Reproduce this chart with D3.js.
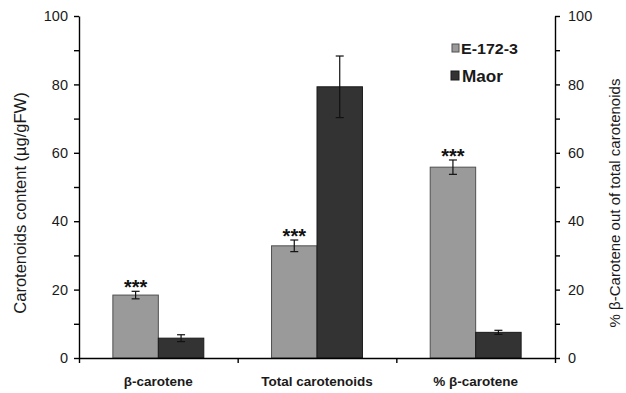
<!DOCTYPE html>
<html>
<head>
<meta charset="utf-8">
<script src="https://cdn.jsdelivr.net/npm/d3@7"></script>
<style>
  html, body { margin: 0; padding: 0; background: #fff; }
  svg { display: block; font-family: Arial, "Liberation Sans", sans-serif; }
</style>
</head>
<body>
<svg id="chart" width="626" height="393"></svg>
<script>
// Carotenoid content of the two lines, with standard errors
const categories = ["β-carotene", "Total carotenoids", "% β-carotene"];
const seriesNames = ["E-172-3", "Maor"];
const e172Values = [18.4, 32.8, 55.8];
const e172Errors = [1.1, 1.7, 2.1];
const maorValues = [5.8, 79.3, 7.5];
const maorErrors = [1.0, 9.0, 0.6];
const e172Marks = ["***", "***", "***"];
const yTicks = [0, 20, 40, 60, 80, 100];
const yMinorTicks = [10, 30, 50, 70, 90];

const colors = { "E-172-3": "#9a9a9a", "Maor": "#333333" };
const strokes = { "E-172-3": "#505050", "Maor": "#1a1a1a" };

const svg = d3.select("#chart");
const plotLeft = 79, plotRight = 555, plotTop = 16, plotBottom = 358;

const x0 = d3.scaleBand().domain(categories).range([plotLeft, plotRight]).paddingInner(0).paddingOuter(0);
const x1 = d3.scaleBand().domain(seriesNames).range([0, x0.bandwidth()]).paddingInner(0).paddingOuter(0.745);
const yLeft = d3.scaleLinear().domain([0, 100]).range([plotBottom, plotTop]);
const yRight = d3.scaleLinear().domain([0, 100]).range([plotBottom, plotTop]);
// the percentage group is read on the right-hand axis
const yFor = i => (i === 2 ? yRight : yLeft);

const rows = categories.map((c, i) => ({
  cat: c, i,
  bars: [
    { s: "E-172-3", v: e172Values[i], e: e172Errors[i], mark: e172Marks[i] },
    { s: "Maor", v: maorValues[i], e: maorErrors[i], mark: "" }
  ]
}));

// bars
const groups = svg.append("g").selectAll("g").data(rows).join("g")
  .attr("transform", d => `translate(${x0(d.cat)},0)`);

groups.selectAll("rect").data(d => d.bars.map(b => ({ ...b, i: d.i }))).join("rect")
  .attr("x", d => x1(d.s))
  .attr("y", d => yFor(d.i)(d.v))
  .attr("width", x1.bandwidth())
  .attr("height", d => yFor(d.i)(0) - yFor(d.i)(d.v))
  .attr("fill", d => colors[d.s])
  .attr("stroke", d => strokes[d.s])
  .attr("stroke-width", 1);

// error bars
const eb = groups.selectAll("g.err").data(d => d.bars.map(b => ({ ...b, i: d.i }))).join("g")
  .attr("class", "err")
  .attr("transform", d => `translate(${x1(d.s) + x1.bandwidth() / 2},0)`);
eb.append("line")
  .attr("y1", d => yFor(d.i)(d.v + d.e)).attr("y2", d => yFor(d.i)(d.v - d.e))
  .attr("stroke", "#111").attr("stroke-width", 1.2);
eb.append("line")
  .attr("x1", -4).attr("x2", 4)
  .attr("y1", d => yFor(d.i)(d.v + d.e)).attr("y2", d => yFor(d.i)(d.v + d.e))
  .attr("stroke", "#111").attr("stroke-width", 1.2);
eb.append("line")
  .attr("x1", -4).attr("x2", 4)
  .attr("y1", d => yFor(d.i)(d.v - d.e)).attr("y2", d => yFor(d.i)(d.v - d.e))
  .attr("stroke", "#111").attr("stroke-width", 1.2);

// significance marks
eb.filter(d => d.mark).append("text")
  .attr("y", d => yFor(d.i)(d.v + d.e) + 3)
  .attr("text-anchor", "middle")
  .attr("font-size", 20).attr("font-weight", "bold").attr("fill", "#111")
  .text(d => d.mark);

// axes
const axisStyle = g => {
  g.select(".domain").attr("stroke", "#000").attr("stroke-width", 1.4);
  g.selectAll(".tick line").attr("stroke", "#000").attr("stroke-width", 1.4);
  g.selectAll("text").attr("font-size", 14.5).attr("fill", "#1a1a1a");
};

svg.append("g").attr("transform", `translate(${plotLeft},0)`)
  .call(d3.axisLeft(yLeft).tickValues(yMinorTicks).tickSize(5).tickFormat(""))
  .call(g => g.select(".domain").remove())
  .call(axisStyle);
svg.append("g").attr("transform", `translate(${plotLeft},0)`)
  .call(d3.axisLeft(yLeft).tickValues(yTicks).tickSize(5).tickSizeOuter(0).tickPadding(6))
  .call(axisStyle);

svg.append("g").attr("transform", `translate(${plotRight},0)`)
  .call(d3.axisRight(yRight).tickValues(yMinorTicks).tickSize(5).tickFormat(""))
  .call(g => g.select(".domain").remove())
  .call(axisStyle);
svg.append("g").attr("transform", `translate(${plotRight},0)`)
  .call(d3.axisRight(yRight).tickValues(yTicks).tickSize(5).tickSizeOuter(0).tickPadding(8))
  .call(axisStyle);

// category axis with ticks between groups
const boundaries = categories.map(c => x0(c)).concat([plotRight]);
const xb = d3.scaleLinear().domain([plotLeft, plotRight]).range([plotLeft, plotRight]);
svg.append("g").attr("transform", `translate(0,${plotBottom})`)
  .call(d3.axisBottom(xb).tickValues(boundaries).tickSize(5).tickSizeOuter(0).tickFormat(""))
  .call(axisStyle);

svg.append("g").selectAll("text").data(categories).join("text")
  .attr("x", d => x0(d) + x0.bandwidth() / 2)
  .attr("y", 386)
  .attr("text-anchor", "middle")
  .attr("font-size", 13.5).attr("font-weight", "bold").attr("fill", "#1a1a1a")
  .text(d => d);

// axis titles
svg.append("text")
  .attr("transform", `translate(26,${(plotTop + plotBottom) / 2 + 16}) rotate(-90)`)
  .attr("text-anchor", "middle")
  .attr("font-size", 16.5).attr("fill", "#1a1a1a")
  .text("Carotenoids content (µg/gFW)");
svg.append("text")
  .attr("transform", `translate(620,${(plotTop + plotBottom) / 2 + 16}) rotate(-90)`)
  .attr("text-anchor", "middle")
  .attr("font-size", 15).attr("fill", "#1a1a1a")
  .text("% β-Carotene out of total carotenoids");

// legend
const legend = svg.append("g").selectAll("g").data(seriesNames).join("g")
  .attr("transform", (d, i) => `translate(452,${44 + i * 27})`);
legend.append("rect")
  .attr("x", d => d === "Maor" ? -1 : 0)
  .attr("width", d => d === "Maor" ? 8 : 7).attr("height", d => d === "Maor" ? 9 : 8)
  .attr("fill", d => colors[d]).attr("stroke", d => strokes[d]).attr("stroke-width", 1);
legend.append("text")
  .attr("x", d => d === "Maor" ? 10 : 9)
  .attr("y", d => d === "Maor" ? 10.5 : 9.5)
  .attr("font-size", d => d === "Maor" ? 17 : 15)
  .attr("font-weight", "bold").attr("fill", "#1a1a1a")
  .attr("textLength", d => d === "Maor" ? 41 : 57)
  .attr("lengthAdjust", "spacingAndGlyphs")
  .text(d => d);
</script>
</body>
</html>
